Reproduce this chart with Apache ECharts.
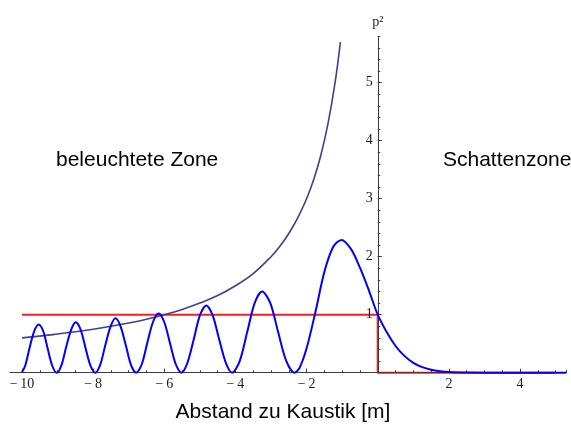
<!DOCTYPE html>
<html>
<head>
<meta charset="utf-8">
<script src="https://cdn.jsdelivr.net/npm/echarts@6/dist/echarts.min.js"></script>
<style>html,body{margin:0;padding:0;background:#fff}#c{width:571px;height:426px}</style>
</head>
<body>
<div id="c"></div>
<script>
// p² intensity curve (x in m, p² value)
const intensityCurve = [
  [-10.00, 0.01], [-9.91, 0.12], [-9.79, 0.42], [-9.66, 0.71], [-9.53, 0.83], [-9.40, 0.71], [-9.28, 0.42], [-9.15, 0.12], [-9.02, 0],
  [-8.89, 0.13], [-8.76, 0.44], [-8.62, 0.74], [-8.49, 0.87], [-8.35, 0.74], [-8.22, 0.44], [-8.08, 0.13], [-7.94, 0],
  [-7.80, 0.14], [-7.66, 0.47], [-7.51, 0.80], [-7.37, 0.94], [-7.23, 0.80], [-7.08, 0.47], [-6.94, 0.14], [-6.79, 0],
  [-6.63, 0.15], [-6.48, 0.51], [-6.32, 0.87], [-6.16, 1.02], [-6.00, 0.87], [-5.84, 0.51], [-5.68, 0.15], [-5.52, 0],
  [-5.35, 0.17], [-5.17, 0.58], [-5.00, 0.99], [-4.82, 1.16], [-4.64, 0.99], [-4.46, 0.58], [-4.27, 0.17], [-4.09, 0],
  [-3.88, 0.20], [-3.67, 0.70], [-3.46, 1.20], [-3.25, 1.40], [-3.02, 1.20], [-2.80, 0.70], [-2.57, 0.20], [-2.34, 0],
  [-2.20, 0.08], [-2.00, 0.42], [-1.75, 1.05], [-1.50, 1.74], [-1.25, 2.17], [-1.02, 2.29],
  [-0.75, 2.13], [-0.50, 1.81], [-0.25, 1.42], [0.00, 1.00], [0.25, 0.70], [0.50, 0.46],
  [0.75, 0.29], [1.00, 0.17], [1.25, 0.095], [1.50, 0.05], [1.75, 0.025], [2.00, 0.012],
  [2.50, 0.003], [3.00, 0.0005], [4.00, 0], [5.30, 0]
];
// geometric-optics curve
const envelopeCurve = [
  [-10, 0.60], [-9.5, 0.63], [-9, 0.667], [-8.5, 0.706], [-8, 0.75], [-7.5, 0.80], [-7, 0.857],
  [-6.5, 0.923], [-6, 1.00], [-5.5, 1.09], [-5, 1.20], [-4.5, 1.33], [-4, 1.50], [-3.5, 1.71],
  [-3, 2.00], [-2.75, 2.18], [-2.5, 2.40], [-2.25, 2.67], [-2, 3.00], [-1.8, 3.33], [-1.6, 3.75],
  [-1.4, 4.29], [-1.2, 5.00], [-1.05, 5.70]
];
// reference level (step)
const referenceLevel = [[-10, 1], [0, 1], [0, 0], [5, 0]];

const xRange = [-10, 5.3];
const yRange = [0, 5.8];
const xAxisTitle = 'Abstand zu Kaustik [m]';
const yAxisTitle = 'p²';
const zoneLabels = ['beleuchtete Zone', 'Schattenzone'];

const axisColor = '#3c3c46';
const serif = '"Liberation Serif", "DejaVu Serif", serif';
const sans = '"Liberation Sans", Arial, sans-serif';

const W = 571, H = 426;
const gridLeft = 22, gridRight = 4.7, gridTop = 36.3, gridBottom = 53.3;
const plotW = W - gridLeft - gridRight;
// pixel offset that puts the y axis at x = 0 (derived from the axis range)
const yAxisShift = -plotW * (0 - xRange[0]) / (xRange[1] - xRange[0]);

function numFmt(v) {
  if (v === 0 || Math.abs(v - Math.round(v)) > 1e-9) return '';
  return v < 0 ? '\u2212\u2009' + Math.abs(v) : String(v);
}

const chart = echarts.init(document.getElementById('c'), null, {renderer: 'canvas'});
chart.setOption({
  animation: false,
  backgroundColor: '#ffffff',
  grid: [
    {left: gridLeft, right: gridRight, top: gridTop, bottom: gridBottom, containLabel: false, outerBoundsMode: 'none'},
    {left: 10, right: gridRight, top: gridTop, bottom: gridBottom, containLabel: false, outerBoundsMode: 'none'}
  ],
  xAxis: [
    {
      type: 'value', gridIndex: 0, min: xRange[0], max: xRange[1], interval: 2, z: 1,
      axisLine: {onZero: false, lineStyle: {color: axisColor, width: 1}},
      axisTick: {inside: true, length: 4, lineStyle: {color: axisColor}},
      axisLabel: {formatter: numFmt, showMaxLabel: false, margin: 5, color: '#1a1a1a',
        fontFamily: serif, fontSize: 14},
      splitLine: {show: false}
    },
    {
      type: 'value', gridIndex: 0, min: xRange[0], max: xRange[1], interval: 0.5, z: 1,
      position: 'bottom',
      axisLine: {show: false, onZero: false},
      axisTick: {inside: true, length: 2.5, lineStyle: {color: axisColor}},
      axisLabel: {show: false}, splitLine: {show: false}
    },
    {
      type: 'value', gridIndex: 1, min: -10.34, max: xRange[1], z: 0,
      axisLine: {onZero: false, lineStyle: {color: axisColor, width: 1}},
      axisTick: {show: false}, axisLabel: {show: false}, splitLine: {show: false}
    }
  ],
  yAxis: [
    {
      type: 'value', gridIndex: 0, min: yRange[0], max: yRange[1], interval: 1, z: 1,
      position: 'left', offset: yAxisShift,
      name: yAxisTitle, nameLocation: 'end', nameGap: 7,
      nameTextStyle: {fontFamily: serif, fontSize: 14, color: '#1a1a1a', align: 'center'},
      axisLine: {onZero: false, lineStyle: {color: axisColor, width: 1}},
      axisTick: {inside: true, length: 4, lineStyle: {color: axisColor}},
      axisLabel: {formatter: numFmt, showMaxLabel: false, margin: 5, color: '#1a1a1a',
        fontFamily: serif, fontSize: 14},
      splitLine: {show: false}
    },
    {
      type: 'value', gridIndex: 0, min: yRange[0], max: yRange[1], interval: 0.2, z: 1,
      position: 'left', offset: yAxisShift,
      axisLine: {show: false, onZero: false},
      axisTick: {inside: true, length: 2.5, lineStyle: {color: axisColor}},
      axisLabel: {show: false}, splitLine: {show: false}
    },
    {
      type: 'value', gridIndex: 1, min: yRange[0], max: yRange[1], show: false
    }
  ],
  series: [
    {
      type: 'line', xAxisIndex: 0, yAxisIndex: 0, data: referenceLevel, z: 0,
      showSymbol: false, clip: false, silent: true,
      lineStyle: {color: '#ff1a1a', width: 2}
    },
    {
      type: 'line', xAxisIndex: 0, yAxisIndex: 0, data: envelopeCurve, z: 2,
      smooth: 0.4, showSymbol: false, clip: false, silent: true,
      lineStyle: {color: '#40408f', width: 1.6}
    },
    {
      type: 'line', xAxisIndex: 0, yAxisIndex: 0, data: intensityCurve, z: 3,
      smooth: 0.3, showSymbol: false, clip: false, silent: true,
      lineStyle: {color: '#0000ff', width: 2}
    }
  ],
  graphic: [
    {type: 'text', x: 56, y: 160, z: 10,
      style: {text: zoneLabels[0], font: '21px ' + sans, fill: '#000', verticalAlign: 'middle'}},
    {type: 'text', x: 443, y: 160, z: 10,
      style: {text: zoneLabels[1], font: '21px ' + sans, fill: '#000', verticalAlign: 'middle'}},
    {type: 'text', x: 283, y: 412, z: 10,
      style: {text: xAxisTitle, font: '21px ' + sans, fill: '#000', align: 'center', verticalAlign: 'middle'}}
  ]
});
</script>
</body>
</html>
